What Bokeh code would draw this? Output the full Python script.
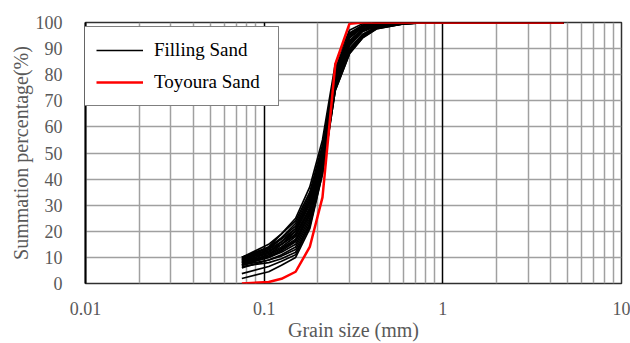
from bokeh.plotting import figure
from bokeh.models import (FixedTicker, Grid, Legend, LegendItem, ColumnDataSource)
from bokeh.embed import file_html
from bokeh.resources import INLINE

# ---- data ----
sieve_mm = [0.075, 0.106, 0.125, 0.15, 0.18, 0.212, 0.25, 0.3, 0.355, 0.425, 0.6, 0.85, 2.0, 4.75]

fs01 = [6.5, 8.0, 9.5, 12.0, 22.0, 42.0, 74.0, 88.0, 94.0, 97.5, 99.5, 100, 100, 100]
fs02 = [7.0, 9.0, 11.0, 14.0, 24.0, 44.0, 75.0, 89.0, 95.0, 98.0, 99.6, 100, 100, 100]
fs03 = [7.5, 10.0, 12.5, 16.0, 26.0, 45.0, 76.0, 90.0, 95.5, 98.3, 99.7, 100, 100, 100]
fs04 = [8.0, 11.0, 13.5, 17.0, 27.0, 46.0, 77.0, 91.0, 96.5, 98.6, 99.8, 100, 100, 100]
fs05 = [8.5, 11.5, 14.0, 18.0, 28.0, 47.0, 78.0, 92.0, 97.0, 99.0, 99.9, 100, 100, 100]
fs06 = [9.0, 12.0, 15.0, 19.0, 29.0, 48.0, 79.0, 93.0, 97.5, 99.2, 100, 100, 100, 100]
fs07 = [9.5, 13.0, 16.0, 20.0, 31.0, 49.0, 80.0, 94.0, 98.0, 99.5, 100, 100, 100, 100]
fs08 = [10.0, 14.0, 17.5, 22.0, 33.0, 51.0, 81.0, 95.0, 98.5, 99.7, 100, 100, 100, 100]
fs09 = [10.0, 15.0, 19.0, 24.0, 35.0, 53.0, 82.0, 96.0, 99.0, 99.8, 100, 100, 100, 100]
fs10 = [9.0, 14.0, 19.0, 25.0, 37.0, 55.0, 84.0, 97.0, 99.5, 100, 100, 100, 100, 100]
fs11 = [8.0, 12.0, 16.0, 21.0, 32.0, 50.0, 80.0, 93.0, 97.2, 99.0, 99.8, 100, 100, 100]
fs12 = [7.0, 10.0, 12.0, 15.0, 25.0, 45.0, 76.0, 89.5, 95.2, 98.2, 99.6, 100, 100, 100]
fs13 = [6.0, 9.0, 10.5, 13.0, 23.0, 43.0, 75.0, 88.5, 94.5, 97.8, 99.5, 100, 100, 100]
fs14 = [9.5, 12.5, 15.0, 18.5, 28.5, 47.5, 78.0, 91.5, 96.8, 98.8, 99.8, 100, 100, 100]
fs15 = [8.0, 10.5, 13.0, 16.5, 27.0, 46.0, 77.5, 92.0, 97.0, 99.1, 99.9, 100, 100, 100]
fs16 = [10.0, 13.5, 17.0, 21.0, 31.5, 50.0, 80.5, 94.5, 98.2, 99.6, 100, 100, 100, 100]
fs17 = [1.9, 4.5, 7.0, 10.0, 21.0, 42.0, 74.0, 88.0, 94.2, 97.6, 99.5, 100, 100, 100]
fs18 = [3.8, 6.5, 8.5, 11.0, 22.5, 43.0, 74.5, 89.0, 95.0, 98.0, 99.6, 100, 100, 100]
fs19 = [7.0, 11.0, 15.0, 20.0, 30.0, 48.5, 79.0, 92.5, 97.3, 99.3, 100, 100, 100, 100]
fs20 = [8.5, 13.0, 17.5, 23.0, 34.0, 52.0, 82.0, 95.5, 98.8, 99.8, 100, 100, 100, 100]

toyoura = [0.0, 0.6, 1.8, 4.5, 14.0, 33.0, 84.0, 99.5, 100, 100, 100, 100, 100, 100]

x_ticks = [0.01, 0.1, 1, 10]
x_tick_labels = ["0.01", "0.1", "1", "10"]
y_ticks = [0, 10, 20, 30, 40, 50, 60, 70, 80, 90, 100]

filling_curves = [fs01, fs02, fs03, fs04, fs05, fs06, fs07, fs08, fs09, fs10,
                  fs11, fs12, fs13, fs14, fs15, fs16, fs17, fs18, fs19, fs20]

# ---- figure ----
FONT = "Liberation Serif"
GRAY_TXT = "#595959"

p = figure(width=630, height=343, x_axis_type="log", x_range=(0.01, 10),
           y_range=(0, 100), output_backend="svg", toolbar_location=None,
           min_border_left=85, min_border_right=9, min_border_top=22,
           min_border_bottom=60)
p.background_fill_color = "white"
p.border_fill_color = "white"
p.outline_line_color = "#303030"
p.outline_line_width = 1.5

# grids
minor = [m * 10.0 ** e for e in (-2, -1, 0) for m in range(2, 10)]
p.xgrid.ticker = FixedTicker(ticks=minor)
p.xgrid.grid_line_color = "#a0a0a0"
p.xgrid.grid_line_width = 1.5
p.add_layout(Grid(dimension=0, ticker=FixedTicker(ticks=[0.1, 1]),
                  grid_line_color="black", grid_line_width=1.5))
p.ygrid.ticker = FixedTicker(ticks=y_ticks)
p.ygrid.grid_line_color = "#a0a0a0"
p.ygrid.grid_line_width = 1.5

# axes
p.xaxis.ticker = FixedTicker(ticks=x_ticks)
p.xaxis.major_label_overrides = {t: l for t, l in zip(x_ticks, x_tick_labels)}
p.yaxis.ticker = FixedTicker(ticks=y_ticks)
for ax in (p.xaxis[0], p.yaxis[0]):
    ax.major_tick_line_color = None
    ax.minor_tick_line_color = None
    ax.major_label_text_font = FONT
    ax.major_label_text_font_size = "18px"
    ax.major_label_text_color = GRAY_TXT
    ax.axis_label_text_font = FONT
    ax.axis_label_text_font_size = "20px"
    ax.axis_label_text_font_style = "normal"
    ax.axis_label_text_color = GRAY_TXT
p.xaxis.axis_line_color = None
p.yaxis.axis_line_color = "black"
p.yaxis.axis_line_width = 2
p.xaxis.axis_label = "Grain size (mm)"
p.yaxis.axis_label = "Summation percentage(%)"
p.xaxis.major_label_standoff = 12
p.xaxis.axis_label_standoff = 1
p.yaxis.major_label_standoff = 17
p.yaxis.axis_label_standoff = 1

# data
src = ColumnDataSource(dict(xs=[sieve_mm] * len(filling_curves), ys=filling_curves))
r_fill = p.multi_line("xs", "ys", source=src, line_color="black", line_width=1.7)
r_toy = p.line(sieve_mm, toyoura, line_color="#ff0000", line_width=2.5)

legend = Legend(items=[LegendItem(label="Filling Sand", renderers=[r_fill]),
                       LegendItem(label="Toyoura Sand", renderers=[r_toy])],
                location=(-2, 177))
legend.label_text_font = FONT
legend.label_text_font_size = "19px"
legend.label_text_color = "black"
legend.border_line_color = "black"
legend.border_line_width = 1.2
legend.background_fill_color = "white"
legend.background_fill_alpha = 1.0
legend.glyph_width = 47
legend.glyph_height = 20
legend.label_height = 20
legend.label_width = 112
legend.label_standoff = 11
legend.padding = 12
legend.spacing = 10
legend.margin = 0
p.add_layout(legend)

open("out.html", "w").write(file_html(p, INLINE))
